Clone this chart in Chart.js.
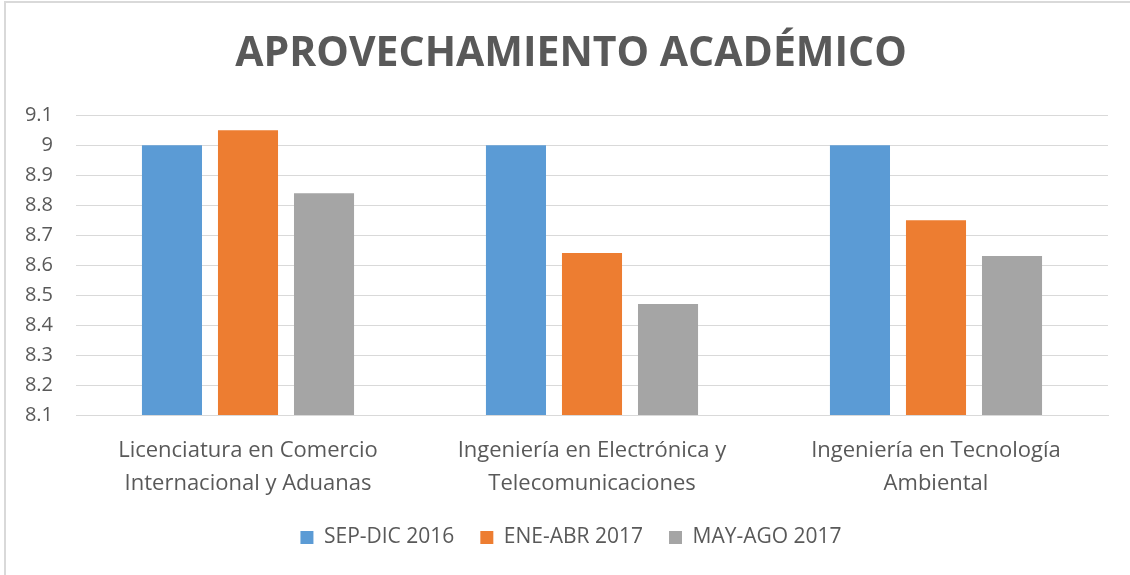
<!DOCTYPE html>
<html>
<head>
<meta charset="utf-8">
<script src="https://cdn.jsdelivr.net/npm/chart.js@4"></script>
<style>
html,body{margin:0;padding:0;background:#fff;}
#wrap{position:relative;width:1130px;height:575px;}
#frame{position:absolute;left:4px;top:1px;width:1200px;height:700px;border-left:2px solid #d9d9d9;border-top:2px solid #d9d9d9;box-sizing:border-box;}
canvas{position:absolute;left:0;top:0;}
</style>
</head>
<body>
<div id="wrap"><div id="frame"></div><canvas id="c" width="1130" height="575"></canvas></div>
<script>
const categories = [
  ["Licenciatura en Comercio", "Internacional y Aduanas"],
  ["Ingeniería en Electrónica y", "Telecomunicaciones"],
  ["Ingeniería en Tecnología", "Ambiental"]
];
const seriesNames = ["SEP-DIC 2016", "ENE-ABR 2017", "MAY-AGO 2017"];
const sepDic2016 = [9.0, 9.0, 9.0];
const eneAbr2017 = [9.05, 8.64, 8.75];
const mayAgo2017 = [8.84, 8.47, 8.63];
const colors = ["#5B9BD5", "#ED7D31", "#A5A5A5"];
const titleText = "APROVECHAMIENTO ACADÉMICO";
const yMin = 8.1, yMax = 9.1, yStep = 0.1;

const FONT = "'Open Sans', 'Noto Sans', sans-serif";
const TXT = "#595959";

new Chart(document.getElementById('c'), {
  type: 'bar',
  data: {
    labels: categories,
    datasets: [sepDic2016, eneAbr2017, mayAgo2017].map((d, i) => ({
      label: seriesNames[i],
      data: d,
      backgroundColor: colors[i],
      borderWidth: 0,
      categoryPercentage: 0.663,
      barPercentage: 0.79
    }))
  },
  options: {
    responsive: false,
    animation: false,
    layout: { padding: { left: 20, right: 8, top: 0, bottom: 17 } },
    plugins: {
      title: {
        display: true,
        text: titleText,
        color: TXT,
        font: { family: FONT, size: 41, weight: 'bold', lineHeight: 1.2 },
        padding: { top: 30, bottom: 36 }
      },
      legend: {
        position: 'bottom',
        labels: {
          color: TXT,
          font: { family: FONT, size: 21 },
          boxWidth: 13,
          boxHeight: 13,
          padding: 26
        }
      },
      tooltip: { enabled: false }
    },
    scales: {
      y: {
        min: yMin,
        max: yMax,
        ticks: {
          stepSize: yStep,
          color: TXT,
          font: { family: FONT, size: 20 },
          padding: 23,
          callback: v => String(+Number(v).toFixed(1))
        },
        grid: { color: '#d9d9d9', lineWidth: 1, drawTicks: false },
        border: { display: false },
        afterFit: s => { s.width = 56; }
      },
      spacer: {
        type: 'linear',
        position: 'right',
        display: true,
        ticks: { display: false },
        grid: { display: false, drawTicks: false },
        border: { display: false },
        afterFit: s => { s.width = 14; }
      },
      x: {
        ticks: {
          color: TXT,
          font: { family: FONT, size: 22, lineHeight: 1.5 },
          padding: 19,
          maxRotation: 0
        },
        grid: { display: false, drawTicks: false },
        border: { display: true, color: '#d9d9d9', width: 1 },
        afterFit: s => { s.height = 86; }
      }
    }
  }
});
</script>
</body>
</html>
